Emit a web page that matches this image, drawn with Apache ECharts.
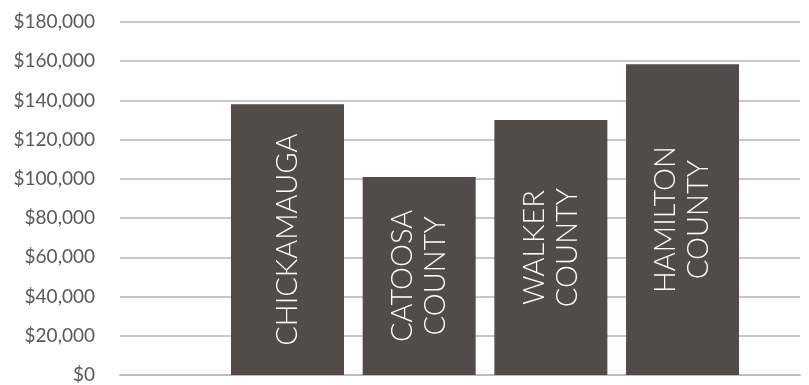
<!DOCTYPE html>
<html>
<head>
<meta charset="utf-8">
<script src="https://cdn.jsdelivr.net/npm/echarts@6/dist/echarts.min.js"></script>
<style>
  html, body { margin: 0; padding: 0; background: #fff; }
  #chart { width: 809px; height: 385px; }
</style>
</head>
<body>
<div id="chart"></div>
<script>
// data
var places = ["CHICKAMAUGA", "CATOOSA\nCOUNTY", "WALKER\nCOUNTY", "HAMILTON\nCOUNTY"];
var amounts = [138000, 101000, 130000, 158500];
var slots = [1, 2, 3, 4];

var barData = [];
for (let i = 0; i < places.length; i++) {
  barData.push({ name: places[i], value: [slots[i], amounts[i]] });
}

var chart = echarts.init(document.getElementById("chart"));
var option = {
  animation: false,
  grid: {
    left: 120,
    right: 9,
    top: 22,
    bottom: 10,
  },
  xAxis: {
    type: "value",
    min: -0.272,
    max: 4.892,
    axisLine: { show: true, lineStyle: { color: "#bdbdbd", width: 2 } },
    axisTick: { show: false },
    axisLabel: { show: false },
    splitLine: { show: false },
  },
  yAxis: {
    type: "value",
    min: 0,
    max: 180000,
    interval: 20000,
    axisLine: { show: false },
    axisTick: { show: false },
    axisLabel: {
      margin: 25,
      color: "#595959",
      fontSize: 19,
      fontFamily: "Lato",
      formatter: function (v) {
        return "$" + v.toLocaleString("en-US");
      },
    },
    splitLine: { lineStyle: { color: "#c8c8c8", width: 2 } },
  },
  series: [
    {
      type: "bar",
      data: barData,
      barWidth: 113,
      itemStyle: { color: "#534b49" },
      label: {
        show: true,
        position: "inside",
        rotate: 90,
        color: "#ffffff",
        fontSize: 29,
        lineHeight: 33,
        fontFamily: "Lato",
        fontWeight: 300,
        formatter: function (p) {
          return p.name;
        },
      },
    },
  ],
};
chart.setOption(option);
</script>
</body>
</html>
